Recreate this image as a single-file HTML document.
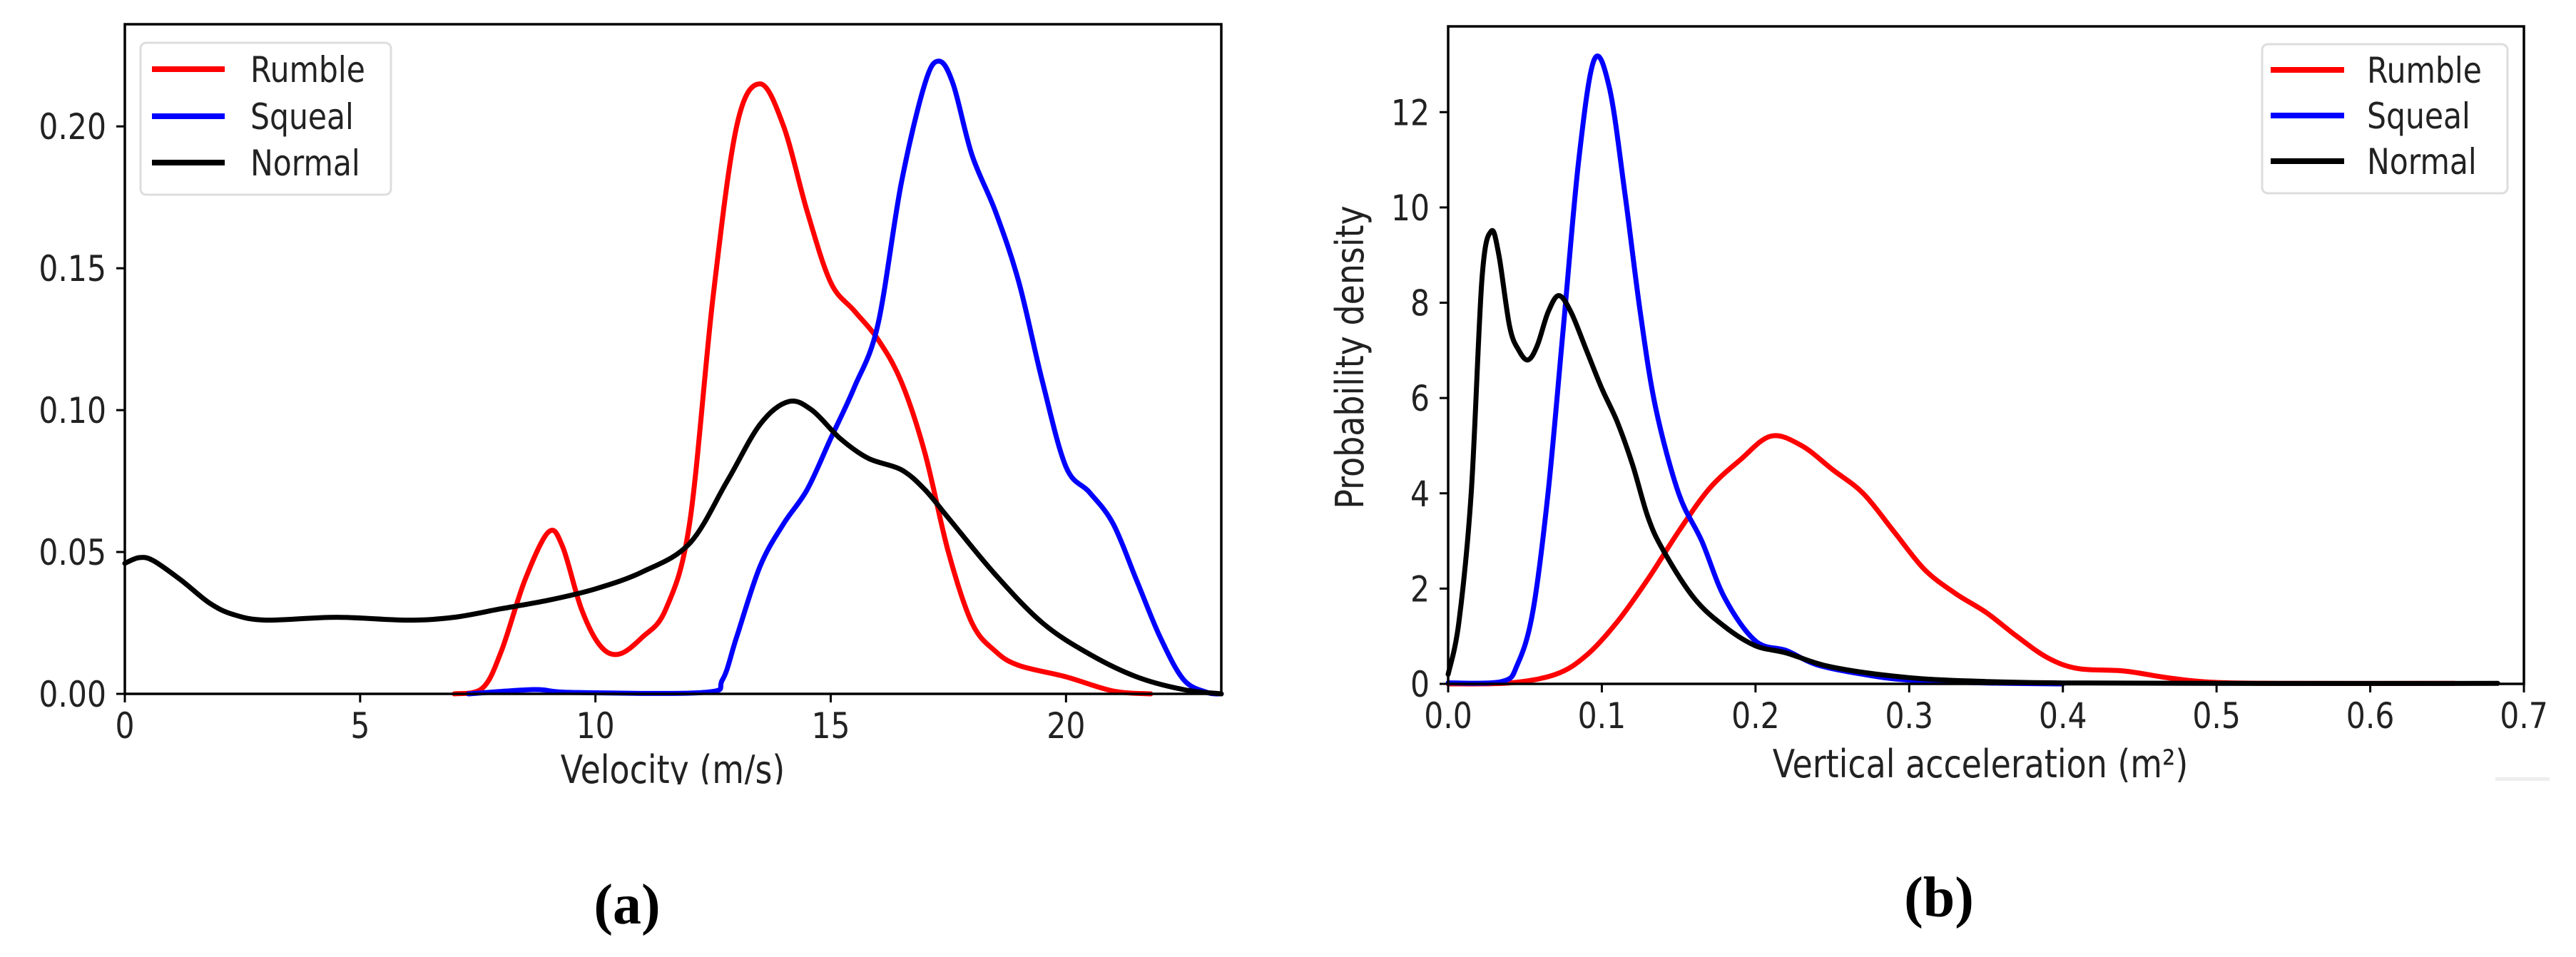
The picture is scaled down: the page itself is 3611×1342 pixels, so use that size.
<!DOCTYPE html>
<html><head><meta charset="utf-8">
<style>
html,body{margin:0;padding:0;background:#fff;}
svg{display:block;}
text{font-family:"DejaVu Sans","Liberation Sans",sans-serif;fill:#222;}
.cap{font-family:"Liberation Serif",serif;font-weight:bold;fill:#000;}
</style></head>
<body>
<svg id="fig" width="3611" height="1342" viewBox="0 0 3611 1342" xmlns="http://www.w3.org/2000/svg">
<g id="chartA"></g>
<g id="chartB"></g>
<text class="cap" x="879" y="1295" font-size="80" text-anchor="middle">(a)</text>
<text class="cap" x="2718" y="1285" font-size="80" text-anchor="middle">(b)</text>
<rect x="3498" y="1090" width="76" height="5" fill="#eee"></rect>
</svg>
<script>
// ---- Chart A data (velocity) ----
const aXTicks = [0, 5, 10, 15, 20];
const aYTicks = [0, 0.05, 0.10, 0.15, 0.20];
const aYTickLabels = ["0.00", "0.05", "0.10", "0.15", "0.20"];
const aRumbleX = [7.0,7.6,8.0,8.5,9.0,9.3,9.7,10.1,10.5,11.0,11.5,12.0,12.5,13.0,13.5,14.0,14.5,15.0,15.5,16.0,16.5,17.0,17.5,18.0,18.5,19.0,20.0,21.0,21.8];
const aRumbleY = [0,0.002,0.015,0.04,0.057,0.052,0.03,0.017,0.014,0.02,0.03,0.06,0.14,0.2,0.215,0.2,0.17,0.145,0.135,0.125,0.11,0.085,0.05,0.025,0.015,0.01,0.006,0.001,0];
const aSquealX = [7.3,8.7,9.5,12.3,12.7,13.0,13.5,14.0,14.5,15.0,15.5,16.0,16.5,17.0,17.3,17.6,18.0,18.5,19.0,19.5,20.0,20.5,21.0,21.5,22.0,22.5,23.0,23.3];
const aSquealY = [0,0.0015,0.0005,0.0005,0.005,0.02,0.045,0.06,0.072,0.09,0.108,0.13,0.18,0.215,0.223,0.215,0.19,0.17,0.145,0.11,0.08,0.071,0.06,0.04,0.02,0.005,0.0005,0];
const aNormalX = [0,0.3,0.6,1.2,1.8,2.3,3.0,4.5,6.0,7.0,8.0,9.0,10.0,11.0,12.0,12.8,13.5,14.1,14.6,15.2,15.8,16.5,17.0,17.5,18.5,19.5,20.5,21.5,22.5,23.3];
const aNormalY = [0.046,0.048,0.047,0.04,0.032,0.028,0.026,0.027,0.026,0.027,0.03,0.033,0.037,0.043,0.053,0.075,0.095,0.103,0.1,0.09,0.083,0.079,0.072,0.062,0.042,0.025,0.014,0.006,0.0015,0];

// ---- Chart B data (vertical acceleration) ----
const bXTicks = [0,0.1,0.2,0.3,0.4,0.5,0.6,0.7];
const bXTickLabels = ["0.0","0.1","0.2","0.3","0.4","0.5","0.6","0.7"];
const bYTicks = [0,2,4,6,8,10,12];
const bRumbleX = [0,0.04,0.07,0.09,0.11,0.13,0.15,0.17,0.19,0.21,0.23,0.25,0.27,0.29,0.31,0.33,0.35,0.37,0.39,0.41,0.44,0.47,0.5,0.55,0.655];
const bRumbleY = [0,0.02,0.2,0.6,1.3,2.2,3.2,4.1,4.7,5.2,5.0,4.5,4.0,3.2,2.4,1.9,1.5,1.0,0.55,0.32,0.27,0.12,0.03,0.01,0.01];
const bSquealX = [0,0.035,0.045,0.055,0.065,0.075,0.085,0.095,0.105,0.115,0.125,0.135,0.15,0.165,0.18,0.2,0.22,0.24,0.27,0.3,0.35,0.4];
const bSquealY = [0.02,0.05,0.4,1.5,4,7.5,11,13.1,12.5,10.3,7.8,5.8,4.0,3.0,1.8,0.9,0.7,0.4,0.2,0.08,0.02,0];
const bNormalX = [0,0.007,0.015,0.022,0.028,0.033,0.04,0.046,0.052,0.058,0.065,0.072,0.08,0.09,0.1,0.11,0.12,0.13,0.14,0.16,0.18,0.2,0.22,0.25,0.3,0.35,0.4,0.5,0.683];
const bNormalY = [0.2,1.3,4,8.5,9.5,9.0,7.5,7.0,6.8,7.1,7.8,8.15,7.8,7.0,6.2,5.5,4.6,3.5,2.8,1.8,1.2,0.8,0.65,0.35,0.13,0.05,0.02,0.01,0.01];

const NS = "http://www.w3.org/2000/svg";
function mk(parent, tag, attrs) {
  const e = document.createElementNS(NS, tag);
  for (const k in attrs) e.setAttribute(k, attrs[k]);
  parent.appendChild(e);
  return e;
}
function smoothPath(P) {
  let d = "M" + P[0][0].toFixed(1) + "," + P[0][1].toFixed(1);
  for (let i = 0; i < P.length - 1; i++) {
    const p0 = P[Math.max(0, i - 1)], p1 = P[i], p2 = P[i + 1], p3 = P[Math.min(P.length - 1, i + 2)];
    const c1x = p1[0] + (p2[0] - p0[0]) / 6, c1y = p1[1] + (p2[1] - p0[1]) / 6;
    const c2x = p2[0] - (p3[0] - p1[0]) / 6, c2y = p2[1] - (p3[1] - p1[1]) / 6;
    d += " C" + c1x.toFixed(1) + "," + c1y.toFixed(1) + " " + c2x.toFixed(1) + "," + c2y.toFixed(1) + " " + p2[0].toFixed(1) + "," + p2[1].toFixed(1);
  }
  return d;
}

function drawChart(g, cfg) {
  const sx = v => cfg.x0 + (v - cfg.xmin) / (cfg.xmax - cfg.xmin) * (cfg.x1 - cfg.x0);
  const sy = v => cfg.y1 - (v - cfg.ymin) / (cfg.ymax - cfg.ymin) * (cfg.y1 - cfg.y0);
  cfg.series.forEach(s => {
    const P = s.x.map((xv, i) => [sx(xv), Math.min(cfg.y1, sy(s.y[i]))]);
    const pl = mk(g, "path", {d: smoothPath(P), fill: "none", stroke: s.color, "stroke-width": 7, "stroke-linejoin": "round", "stroke-linecap": "round"});
    
    
  });
  const fr = mk(g, "rect", {x: cfg.x0, y: cfg.y0, width: cfg.x1 - cfg.x0, height: cfg.y1 - cfg.y0, fill: "none", stroke: "#000", "stroke-width": 3.5});
  
  
  cfg.xTicks.forEach((t, i) => {
    const x = sx(t);
    const tk = mk(g, "line", {x1: x, y1: cfg.y1, x2: x, y2: cfg.y1 + 12, stroke: "#000", "stroke-width": 3});
    
    
    const tx = mk(g, "text", {x: 0, y: 0, "font-size": 50, "text-anchor": "middle", transform: "translate(" + x + " " + (cfg.y1 + 62) + ") scale(0.85 1)"});
    tx.textContent = cfg.xLabels ? cfg.xLabels[i] : String(t);
    
    
  });
  cfg.yTicks.forEach((t, i) => {
    const y = sy(t);
    const tk = mk(g, "line", {x1: cfg.x0 - 12, y1: y, x2: cfg.x0, y2: y, stroke: "#000", "stroke-width": 3});
    
    
    const tx = mk(g, "text", {x: 0, y: 0, "font-size": 50, "text-anchor": "end", transform: "translate(" + (cfg.x0 - 26) + " " + (y + 18) + ") scale(0.85 1)"});
    tx.textContent = cfg.yLabels ? cfg.yLabels[i] : String(t);
    
    
  });
  const L = cfg.legend;
  const lb = mk(g, "rect", {x: L.x, y: L.y, width: L.w, height: L.h, rx: 8, fill: "#fff", stroke: "#ddd", "stroke-width": 3});
  
  
  cfg.series.forEach((s, i) => {
    const yy = L.rowY[i];
    const ln = mk(g, "line", {x1: L.lx0, y1: yy, x2: L.lx1, y2: yy, stroke: s.color, "stroke-width": 8});
    
    
    const tx = mk(g, "text", {x: 0, y: 0, "font-size": 50, transform: "translate(" + L.tx + " " + (yy + 18) + ") scale(0.85 1)"});
    tx.textContent = s.label;
    
    
  });
}

drawChart(document.getElementById("chartA"), {
  x0: 175, x1: 1712, y0: 34, y1: 973, xmin: 0, xmax: 23.3, ymin: 0, ymax: 0.236,
  xTicks: aXTicks, yTicks: aYTicks, yLabels: aYTickLabels,
  series: [
    {name: "rumble", label: "Rumble", color: "#ff0000", x: aRumbleX, y: aRumbleY},
    {name: "squeal", label: "Squeal", color: "#0000ff", x: aSquealX, y: aSquealY},
    {name: "normal", label: "Normal", color: "#000000", x: aNormalX, y: aNormalY}
  ],
  legend: {x: 197, y: 60, w: 351, h: 213, lx0: 213, lx1: 315, tx: 351, rowY: [97, 163, 228]}
});
drawChart(document.getElementById("chartB"), {
  x0: 2030, x1: 3538, y0: 37, y1: 959, xmin: 0, xmax: 0.7, ymin: 0, ymax: 13.8,
  xTicks: bXTicks, xLabels: bXTickLabels, yTicks: bYTicks,
  series: [
    {name: "rumble", label: "Rumble", color: "#ff0000", x: bRumbleX, y: bRumbleY},
    {name: "squeal", label: "Squeal", color: "#0000ff", x: bSquealX, y: bSquealY},
    {name: "normal", label: "Normal", color: "#000000", x: bNormalX, y: bNormalY}
  ],
  legend: {x: 3171, y: 62, w: 344, h: 209, lx0: 3183, lx1: 3286, tx: 3318, rowY: [98, 162, 226]}
});

const fig = document.getElementById("fig");
const xa = mk(fig, "text", {x: 0, y: 0, "font-size": 54, "text-anchor": "middle", transform: "translate(943 1098) scale(0.85 1)"});
xa.textContent = "Velocity (m/s)";


const xb = mk(fig, "text", {x: 0, y: 0, "font-size": 54, "text-anchor": "middle", transform: "translate(2776 1090) scale(0.85 1)"});
xb.textContent = "Vertical acceleration (m\u00B2)";


const yb = mk(fig, "text", {x: 0, y: 0, "font-size": 54, "text-anchor": "middle", transform: "translate(1911 501) rotate(-90) scale(0.85 1)"});
yb.textContent = "Probability density";


const mask = mk(fig, "rect", {x: 700, y: 1100, width: 500, height: 40, fill: "#fff"});


</script>
</body></html>
